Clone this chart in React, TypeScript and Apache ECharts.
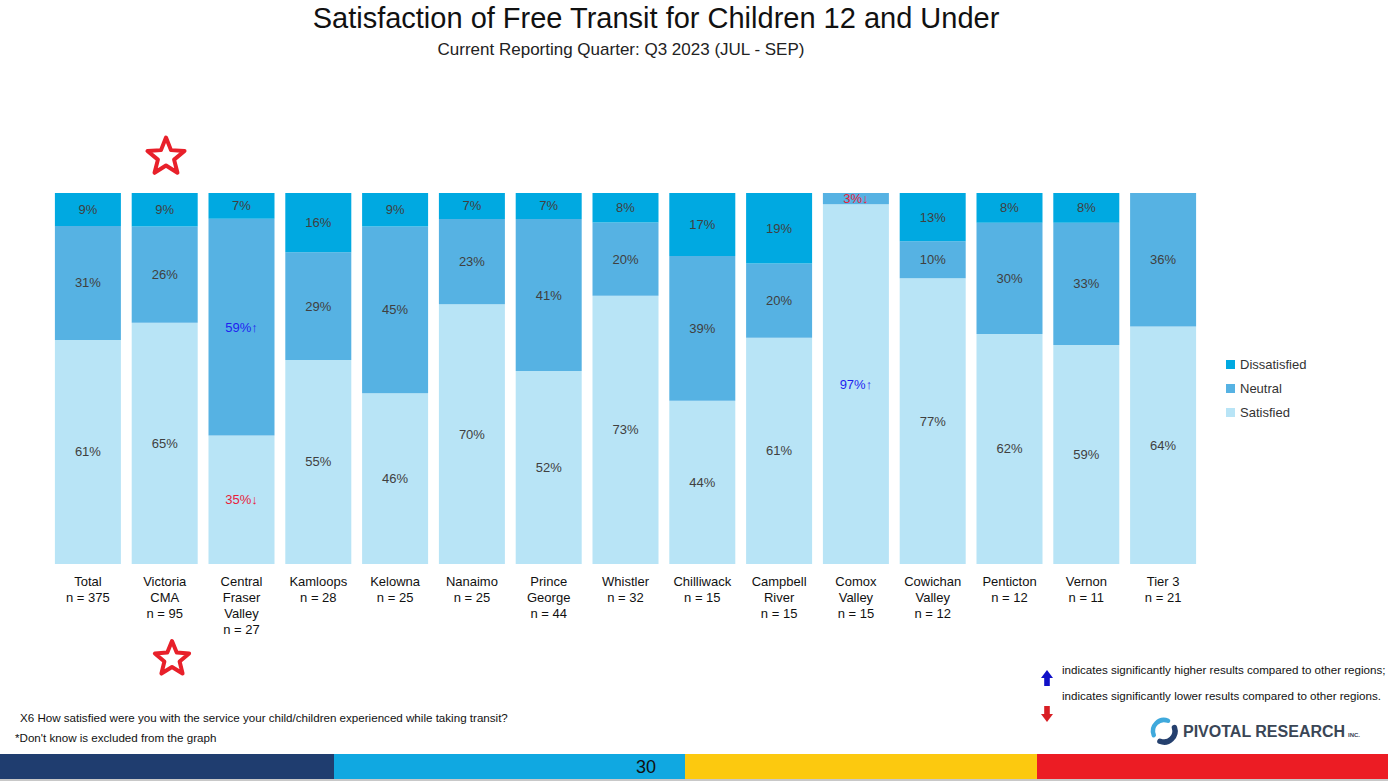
import React, { useEffect, useRef } from "react";
import * as echarts from "echarts";

// Regions on the x axis (name and sample size)
const categories = [
  "Total\nn = 375",
  "Victoria\nCMA\nn = 95",
  "Central\nFraser\nValley\nn = 27",
  "Kamloops\nn = 28",
  "Kelowna\nn = 25",
  "Nanaimo\nn = 25",
  "Prince\nGeorge\nn = 44",
  "Whistler\nn = 32",
  "Chilliwack\nn = 15",
  "Campbell\nRiver\nn = 15",
  "Comox\nValley\nn = 15",
  "Cowichan\nValley\nn = 12",
  "Penticton\nn = 12",
  "Vernon\nn = 11",
  "Tier 3\nn = 21",
];

// Percentages per region
const satisfied = [61, 65, 35, 55, 46, 70, 52, 73, 44, 61, 97, 77, 62, 59, 64];
const neutral = [31, 26, 59, 29, 45, 23, 41, 20, 39, 20, 3, 10, 30, 33, 36];
const dissatisfied = [9, 9, 7, 16, 9, 7, 7, 8, 17, 19, 0, 13, 8, 8, 0];

// Significance flags: 1 = significantly higher, -1 = significantly lower
const satisfiedSig = [0, 0, -1, 0, 0, 0, 0, 0, 0, 0, 1, 0, 0, 0, 0];
const neutralSig = [0, 0, 1, 0, 0, 0, 0, 0, 0, 0, -1, 0, 0, 0, 0];
const dissatisfiedSig = [0, 0, 0, 0, 0, 0, 0, 0, 0, 0, 0, 0, 0, 0, 0];

const COLORS = {
  Satisfied: "#B8E4F6",
  Neutral: "#56B2E3",
  Dissatisfied: "#00A9E1",
};

const FONT = "'Liberation Sans', Arial, sans-serif";

function starPoints(cx: number, cy: number, R: number, r: number) {
  const pts: number[][] = [];
  for (let i = 0; i < 10; i++) {
    const a = -Math.PI / 2 + (i * Math.PI) / 5;
    const rad = i % 2 === 0 ? R : r;
    pts.push([cx + rad * Math.cos(a), cy + rad * Math.sin(a)]);
  }
  return pts;
}

function arrowPoints(cx: number, top: number, h: number, up: boolean) {
  const hw = 6; // half head width
  const sw = 2.8; // half shaft width
  const hh = 8; // head height
  return up
    ? [
        [cx, top],
        [cx + hw, top + hh],
        [cx + sw, top + hh],
        [cx + sw, top + h],
        [cx - sw, top + h],
        [cx - sw, top + hh],
        [cx - hw, top + hh],
      ]
    : [
        [cx - sw, top],
        [cx + sw, top],
        [cx + sw, top + h - hh],
        [cx + hw, top + h - hh],
        [cx, top + h],
        [cx - hw, top + h - hh],
        [cx - sw, top + h - hh],
      ];
}

function buildSeries(name: string, raw: number[], sig: number[]) {
  const data = raw.map((v, i) => {
    const total = satisfied[i] + neutral[i] + dissatisfied[i];
    return { value: (v / total) * 100, raw: v, sig: sig[i] };
  });
  return {
    name,
    type: "bar",
    stack: "all",
    barWidth: 66,
    itemStyle: { color: (COLORS as any)[name] },
    label: {
      show: true,
      position: "inside",
      fontFamily: FONT,
      fontSize: 13,
      color: "#404040",
      formatter: (p: any) => {
        const d = p.data;
        if (!d.raw) return "";
        if (d.sig === 1) return `{up|${d.raw}%↑}`;
        if (d.sig === -1) return `{down|${d.raw}%↓}`;
        return `${d.raw}%`;
      },
      rich: {
        up: { color: "#1F1FF0", fontSize: 13, fontFamily: FONT },
        down: { color: "#E8203A", fontSize: 13, fontFamily: FONT },
      },
    },
    emphasis: { disabled: true },
    data,
  };
}

export default function App() {
  const ref = useRef<HTMLDivElement>(null);

  useEffect(() => {
    if (!ref.current) return;
    const chart = echarts.init(ref.current, undefined, { renderer: "svg" });

    const text = (
      str: string,
      x: number,
      y: number,
      font: string,
      fill: string,
      align: string = "left"
    ) => ({
      type: "text",
      silent: true,
      style: {
        text: str,
        x,
        y,
        font,
        fill,
        textAlign: align,
        textVerticalAlign: "middle",
      },
    });

    const graphic: any[] = [
      text(
        "Satisfaction of Free Transit for Children 12 and Under",
        656,
        18,
        `29px ${FONT}`,
        "#111111",
        "center"
      ),
      text(
        "Current Reporting Quarter: Q3 2023 (JUL - SEP)",
        621,
        49,
        `17px ${FONT}`,
        "#222222",
        "center"
      ),
      // stars marking the featured region
      {
        type: "polygon",
        silent: true,
        shape: { points: starPoints(166, 157, 19.5, 8.5) },
        style: { fill: "#ffffff", stroke: "#E8202A", lineWidth: 4, lineJoin: "round" },
      },
      {
        type: "polygon",
        silent: true,
        shape: { points: starPoints(172, 659, 18, 8) },
        style: { fill: "#ffffff", stroke: "#E8202A", lineWidth: 4, lineJoin: "round" },
      },
      text(
        "X6 How satisfied were you with the service your child/children experienced while taking transit?",
        20,
        717,
        `11.6px ${FONT}`,
        "#111111"
      ),
      text("*Don't know is excluded from the graph", 15, 737, `11.6px ${FONT}`, "#111111"),
      text(
        "indicates significantly higher results compared to other regions;",
        1062,
        669,
        `11.6px ${FONT}`,
        "#111111"
      ),
      text(
        "indicates significantly lower results compared to other regions.",
        1062,
        695,
        `11.6px ${FONT}`,
        "#111111"
      ),
      {
        type: "polygon",
        silent: true,
        shape: { points: arrowPoints(1047, 670, 16, true) },
        style: { fill: "#1010C8" },
      },
      {
        type: "polygon",
        silent: true,
        shape: { points: arrowPoints(1047, 706, 16, false) },
        style: { fill: "#D81E24" },
      },
      // logo mark: two opposing swooshes
      {
        type: "arc",
        silent: true,
        shape: { cx: 1164, cy: 731, r: 11, startAngle: 0.88 * Math.PI, endAngle: 1.62 * Math.PI, clockwise: true },
        style: { stroke: "#3FA9DC", lineWidth: 4.5, lineCap: "round", fill: "none" },
      },
      {
        type: "arc",
        silent: true,
        shape: { cx: 1164, cy: 731, r: 11, startAngle: -0.1 * Math.PI, endAngle: 0.62 * Math.PI, clockwise: true },
        style: { stroke: "#25406E", lineWidth: 5.5, lineCap: "round", fill: "none" },
      },
      text("PIVOTAL RESEARCH", 1183, 731, `bold 16px ${FONT}`, "#3A4656"),
      text("INC.", 1348, 735, `bold 6px ${FONT}`, "#3A4656"),
      // footer band
      { type: "rect", silent: true, shape: { x: 0, y: 754, width: 334, height: 25 }, style: { fill: "#1F3D6F" } },
      { type: "rect", silent: true, shape: { x: 334, y: 754, width: 351, height: 25 }, style: { fill: "#10A8E1" } },
      { type: "rect", silent: true, shape: { x: 685, y: 754, width: 352, height: 25 }, style: { fill: "#FCC90F" } },
      { type: "rect", silent: true, shape: { x: 1037, y: 754, width: 351, height: 25 }, style: { fill: "#EC1C24" } },
      { type: "rect", silent: true, shape: { x: 0, y: 779, width: 1388, height: 2 }, style: { fill: "#C8C8C8" } },
      text("30", 646, 767, `18px ${FONT}`, "#111111", "center"),
    ];

    chart.setOption({
      animation: false,
      backgroundColor: "#ffffff",
      grid: { left: 49.5, right: 186.5, top: 193, bottom: 217, containLabel: false },
      legend: {
        orient: "vertical",
        left: 1221,
        top: 353,
        itemWidth: 9,
        itemHeight: 9,
        itemGap: 11,
        icon: "rect",
        data: ["Dissatisfied", "Neutral", "Satisfied"],
        textStyle: { fontFamily: FONT, fontSize: 13, color: "#333333" },
        selectedMode: false,
      },
      xAxis: {
        type: "category",
        data: categories,
        axisLine: { show: false },
        axisTick: { show: false },
        axisLabel: {
          interval: 0,
          margin: 9,
          fontFamily: FONT,
          fontSize: 13,
          lineHeight: 16,
          color: "#111111",
        },
      },
      yAxis: { type: "value", min: 0, max: 100, show: false, splitLine: { show: false } },
      series: [
        buildSeries("Satisfied", satisfied, satisfiedSig),
        buildSeries("Neutral", neutral, neutralSig),
        buildSeries("Dissatisfied", dissatisfied, dissatisfiedSig),
      ],
      graphic,
    });

    return () => chart.dispose();
  }, []);

  return (
    <div
      ref={ref}
      style={{ position: "absolute", left: 0, top: 0, width: 1388, height: 781 }}
    />
  );
}
